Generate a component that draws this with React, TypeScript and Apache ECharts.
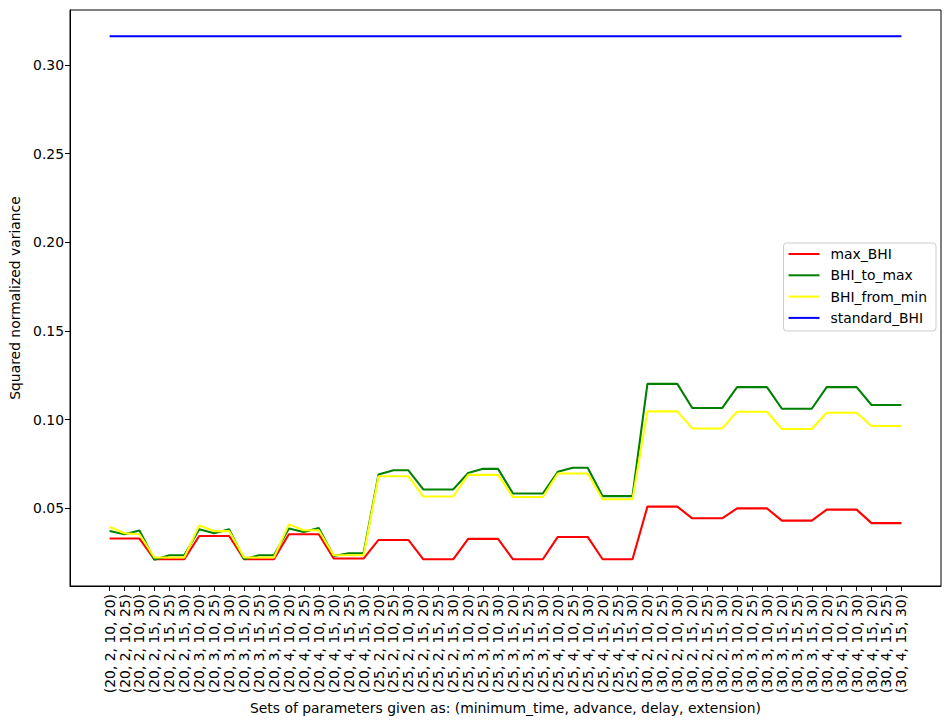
import React, { useEffect, useRef } from "react";
import * as echarts from "echarts";

const categories = [
  "(20, 2, 10, 20)", "(20, 2, 10, 25)", "(20, 2, 10, 30)", "(20, 2, 15, 20)", "(20, 2, 15, 25)", "(20, 2, 15, 30)",
  "(20, 3, 10, 20)", "(20, 3, 10, 25)", "(20, 3, 10, 30)", "(20, 3, 15, 20)", "(20, 3, 15, 25)", "(20, 3, 15, 30)",
  "(20, 4, 10, 20)", "(20, 4, 10, 25)", "(20, 4, 10, 30)", "(20, 4, 15, 20)", "(20, 4, 15, 25)", "(20, 4, 15, 30)",
  "(25, 2, 10, 20)", "(25, 2, 10, 25)", "(25, 2, 10, 30)", "(25, 2, 15, 20)", "(25, 2, 15, 25)", "(25, 2, 15, 30)",
  "(25, 3, 10, 20)", "(25, 3, 10, 25)", "(25, 3, 10, 30)", "(25, 3, 15, 20)", "(25, 3, 15, 25)", "(25, 3, 15, 30)",
  "(25, 4, 10, 20)", "(25, 4, 10, 25)", "(25, 4, 10, 30)", "(25, 4, 15, 20)", "(25, 4, 15, 25)", "(25, 4, 15, 30)",
  "(30, 2, 10, 20)", "(30, 2, 10, 25)", "(30, 2, 10, 30)", "(30, 2, 15, 20)", "(30, 2, 15, 25)", "(30, 2, 15, 30)",
  "(30, 3, 10, 20)", "(30, 3, 10, 25)", "(30, 3, 10, 30)", "(30, 3, 15, 20)", "(30, 3, 15, 25)", "(30, 3, 15, 30)",
  "(30, 4, 10, 20)", "(30, 4, 10, 25)", "(30, 4, 10, 30)", "(30, 4, 15, 20)", "(30, 4, 15, 25)", "(30, 4, 15, 30)",
];

const maxBHI = [
  0.0330, 0.0330, 0.0330, 0.0213, 0.0213, 0.0213,
  0.0344, 0.0344, 0.0344, 0.0213, 0.0213, 0.0213,
  0.0354, 0.0354, 0.0354, 0.0217, 0.0217, 0.0217,
  0.0322, 0.0322, 0.0322, 0.0213, 0.0213, 0.0213,
  0.0328, 0.0328, 0.0328, 0.0213, 0.0213, 0.0213,
  0.0339, 0.0339, 0.0339, 0.0213, 0.0213, 0.0213,
  0.0510, 0.0510, 0.0510, 0.0444, 0.0444, 0.0444,
  0.0500, 0.0500, 0.0500, 0.0431, 0.0431, 0.0431,
  0.0493, 0.0493, 0.0493, 0.0417, 0.0417, 0.0417,
];

const bhiToMax = [
  0.0372, 0.0354, 0.0376, 0.0210, 0.0236, 0.0236,
  0.0382, 0.0360, 0.0382, 0.0213, 0.0236, 0.0236,
  0.0386, 0.0367, 0.0389, 0.0232, 0.0247, 0.0247,
  0.0691, 0.0715, 0.0715, 0.0607, 0.0607, 0.0607,
  0.0700, 0.0723, 0.0723, 0.0584, 0.0584, 0.0584,
  0.0706, 0.0729, 0.0729, 0.0569, 0.0569, 0.0569,
  0.1202, 0.1202, 0.1202, 0.1066, 0.1066, 0.1066,
  0.1184, 0.1184, 0.1184, 0.1062, 0.1062, 0.1062,
  0.1184, 0.1184, 0.1184, 0.1083, 0.1083, 0.1083,
];

const bhiFromMin = [
  0.0395, 0.0360, 0.0354, 0.0223, 0.0223, 0.0223,
  0.0404, 0.0372, 0.0372, 0.0223, 0.0223, 0.0223,
  0.0410, 0.0377, 0.0377, 0.0236, 0.0236, 0.0236,
  0.0681, 0.0681, 0.0681, 0.0567, 0.0567, 0.0567,
  0.0689, 0.0689, 0.0689, 0.0564, 0.0564, 0.0564,
  0.0697, 0.0697, 0.0697, 0.0552, 0.0552, 0.0552,
  0.1047, 0.1047, 0.1047, 0.0951, 0.0951, 0.0951,
  0.1045, 0.1045, 0.1045, 0.0948, 0.0948, 0.0948,
  0.1039, 0.1039, 0.1039, 0.0965, 0.0965, 0.0965,
];

const standardBHI = [
  0.3163, 0.3163, 0.3163, 0.3163, 0.3163, 0.3163,
  0.3163, 0.3163, 0.3163, 0.3163, 0.3163, 0.3163,
  0.3163, 0.3163, 0.3163, 0.3163, 0.3163, 0.3163,
  0.3163, 0.3163, 0.3163, 0.3163, 0.3163, 0.3163,
  0.3163, 0.3163, 0.3163, 0.3163, 0.3163, 0.3163,
  0.3163, 0.3163, 0.3163, 0.3163, 0.3163, 0.3163,
  0.3163, 0.3163, 0.3163, 0.3163, 0.3163, 0.3163,
  0.3163, 0.3163, 0.3163, 0.3163, 0.3163, 0.3163,
  0.3163, 0.3163, 0.3163, 0.3163, 0.3163, 0.3163,
];

const yTicks = [0.05, 0.1, 0.15, 0.2, 0.25, 0.3];

const seriesDefs = [
  { name: "max_BHI", values: maxBHI, color: "#ff0000" },
  { name: "BHI_to_max", values: bhiToMax, color: "#008000" },
  { name: "BHI_from_min", values: bhiFromMin, color: "#ffff00" },
  { name: "standard_BHI", values: standardBHI, color: "#0000ff" },
];

const FONT = "DejaVu Sans";
const FS = 13.9;

export default function App() {
  const ref = useRef<HTMLDivElement>(null);
  useEffect(() => {
    if (!ref.current) return;
    const chart = echarts.init(ref.current, null, { renderer: "svg" });
    const n = categories.length;
    const pad = (n - 1) * 0.05;
    const all = seriesDefs.flatMap((s) => s.values);
    const dmin = Math.min(...all);
    const dmax = Math.max(...all);
    const ypad = (dmax - dmin) * 0.05;
    chart.setOption({
      animation: false,
      textStyle: { fontFamily: FONT },
      grid: {
        left: 70,
        right: 11,
        top: 10,
        bottom: 140,
        show: true,
        borderColor: "#000",
        borderWidth: 1,
        backgroundColor: "transparent",
      },
      legend: {
        orient: "vertical",
        right: 16,
        top: 243,
        padding: [3, 9, 5, 5],
        itemGap: 5.3,
        itemWidth: 31,
        itemHeight: 2,
        icon: "rect",
        backgroundColor: "rgba(255,255,255,0.8)",
        borderColor: "#cccccc",
        borderWidth: 1,
        borderRadius: 3,
        textStyle: {
          fontFamily: FONT,
          fontSize: FS,
          color: "#000",
          lineHeight: 16,
          padding: [0, 0, 0, 6],
        },
        data: seriesDefs.map((s) => s.name),
      },
      xAxis: {
        type: "value",
        min: -pad,
        max: n - 1 + pad,
        name: "Sets of parameters given as: (minimum_time, advance, delay, extension)",
        nameLocation: "middle",
        nameGap: 115,
        nameTextStyle: { fontFamily: FONT, fontSize: FS, color: "#000" },
        axisLine: { show: true, onZero: false, lineStyle: { color: "#000", width: 1 } },
        axisTick: {
          show: true,
          inside: false,
          length: 5,
          lineStyle: { color: "#000" },
          customValues: categories.map((_, i) => i),
        },
        axisLabel: {
          show: true,
          rotate: 90,
          margin: 8,
          fontFamily: FONT,
          fontSize: FS,
          color: "#000",
          customValues: categories.map((_, i) => i),
          formatter: (v: number) => categories[Math.round(v)] ?? "",
        },
        splitLine: { show: false },
      },
      yAxis: {
        type: "value",
        min: dmin - ypad,
        max: dmax + ypad,
        name: "Squared normalized variance",
        nameLocation: "middle",
        nameGap: 47,
        nameTextStyle: { fontFamily: FONT, fontSize: FS, color: "#000" },
        axisLine: { show: true, onZero: false, lineStyle: { color: "#000", width: 1 } },
        axisTick: { show: true, inside: false, length: 5, lineStyle: { color: "#000" }, customValues: yTicks },
        axisLabel: {
          show: true,
          margin: 6,
          fontFamily: FONT,
          fontSize: FS,
          color: "#000",
          customValues: yTicks,
          formatter: (v: number) => v.toFixed(2),
        },
        splitLine: { show: false },
      },
      series: seriesDefs.map((s) => ({
        name: s.name,
        type: "line",
        data: s.values.map((v, i) => [i, v]),
        showSymbol: false,
        symbol: "none",
        color: s.color,
        lineStyle: { color: s.color, width: 2.08 },
        itemStyle: { color: s.color },
      })),
    });
    return () => chart.dispose();
  }, []);
  return (
    <div
      ref={ref}
      style={{ position: "fixed", left: 0, top: 0, width: 952, height: 726, background: "#fff" }}
    />
  );
}
